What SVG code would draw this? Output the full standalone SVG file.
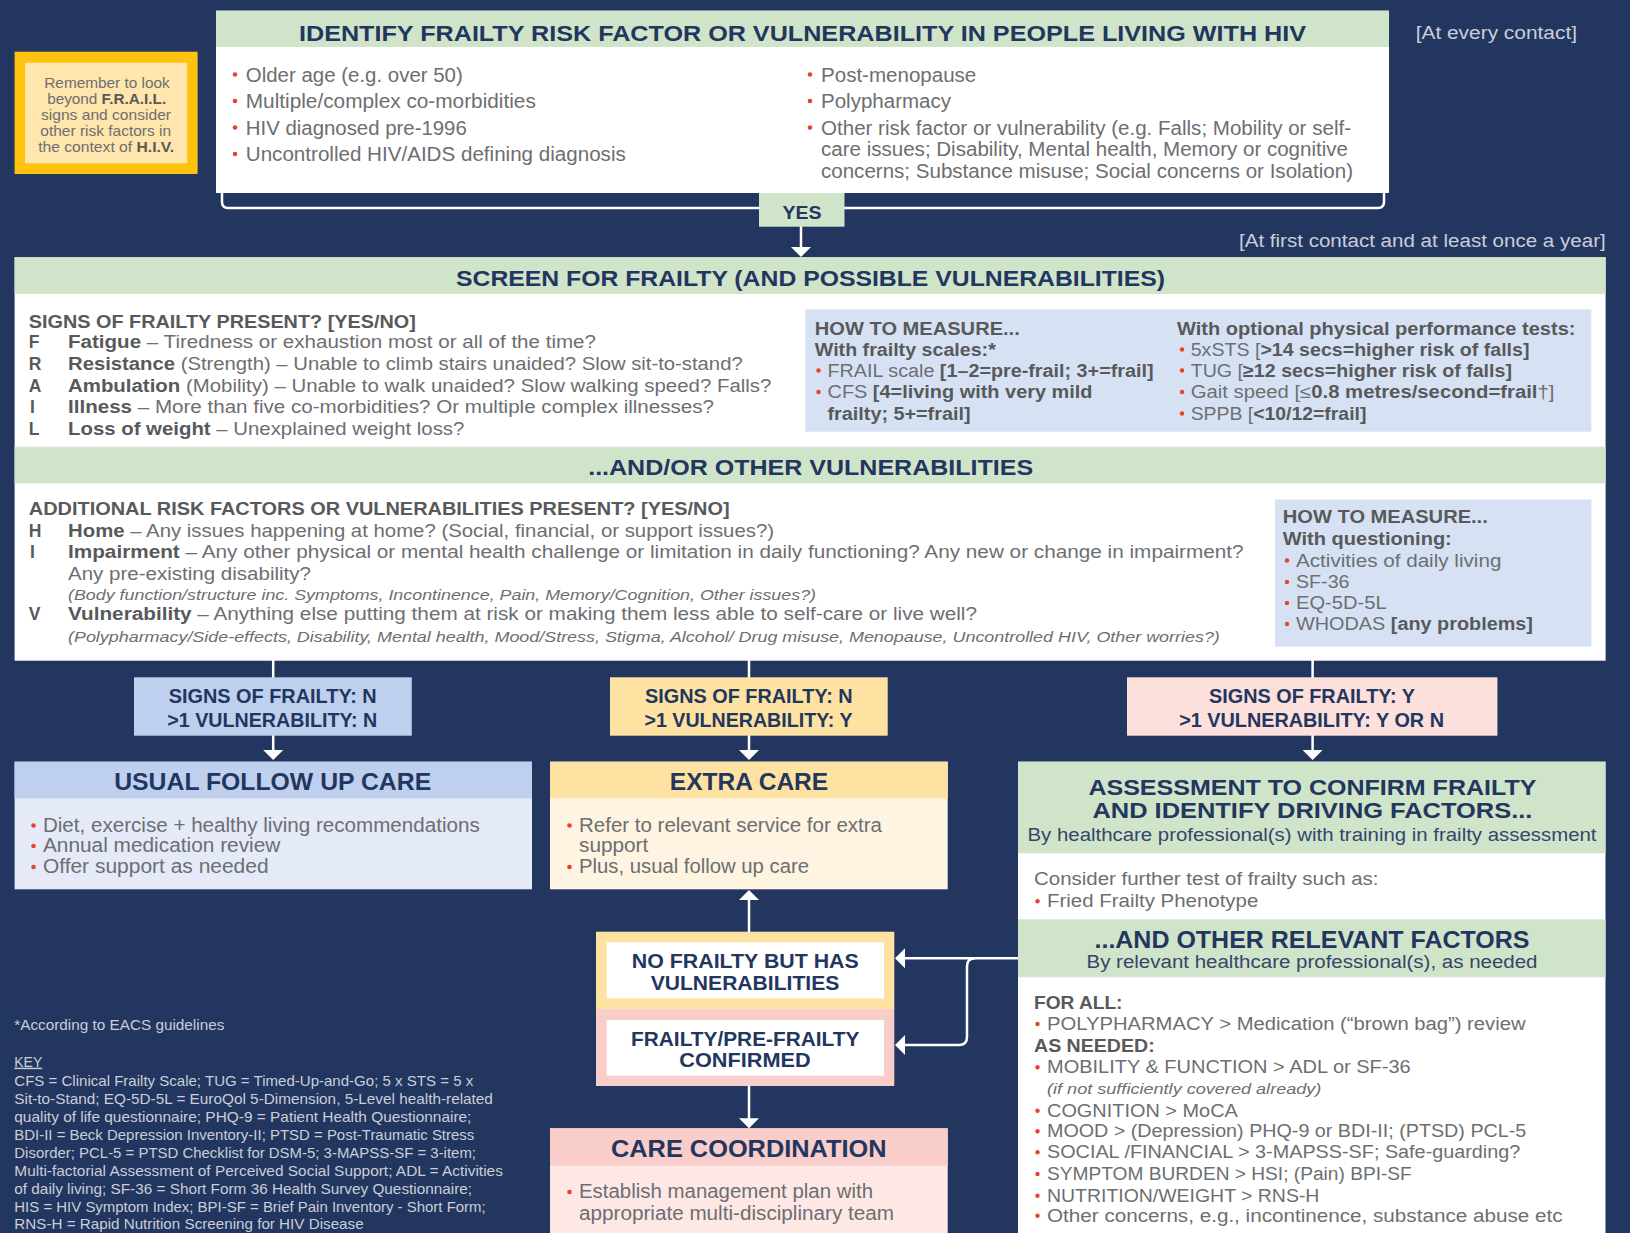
<svg xmlns="http://www.w3.org/2000/svg" width="1630" height="1233" viewBox="0 0 1630 1233">
<defs>
<style>
text{font-family:"Liberation Sans",Arial,sans-serif}
.g{fill:#6d6e71;font-size:19.5px}
.s{fill:#6d6e71;font-size:17.5px}
.m{fill:#6d6e71;font-size:18px}
.gb{font-weight:bold;fill:#58595b}
.h{font-weight:bold;fill:#22365f}
.nv{fill:#34466b;font-size:18px}
.w{fill:#c9ced9;font-size:14.5px}
.it{font-style:italic;fill:#6d6e71;font-size:15px}
.b{fill:#e8412c}
.c{stroke:#fff;stroke-width:2.5;fill:none}
.green{fill:#d0e4c9}
</style>
<marker id="ah" viewBox="0 0 10 20" refX="5" refY="10" markerWidth="10" markerHeight="20" markerUnits="userSpaceOnUse" orient="auto"><path d="M0,0 L10,10 L0,20 z" fill="#fff"/></marker>
</defs>
<rect width="1630" height="1233" fill="#233660"/>

<g id="connectors">
<path class="c" d="M222 193 V202 Q222 208 228 208 H1378 Q1384 208 1384 202 V193"/>
<line class="c" x1="801" y1="226" x2="801" y2="252" marker-end="url(#ah)"/>
<line class="c" x1="273.2" y1="660" x2="273.2" y2="678"/>
<line class="c" x1="749" y1="660" x2="749" y2="678"/>
<line class="c" x1="1312.6" y1="660" x2="1312.6" y2="678"/>
<line class="c" x1="273.2" y1="735" x2="273.2" y2="755" marker-end="url(#ah)"/>
<line class="c" x1="749" y1="735" x2="749" y2="755" marker-end="url(#ah)"/>
<line class="c" x1="1312.6" y1="735" x2="1312.6" y2="755" marker-end="url(#ah)"/>
<line class="c" x1="749" y1="932" x2="749" y2="895" marker-end="url(#ah)"/>
<line class="c" x1="749" y1="1086" x2="749" y2="1123.3" marker-end="url(#ah)"/>
<line class="c" x1="1019" y1="958.3" x2="900" y2="958.3" marker-end="url(#ah)"/>
<path class="c" d="M975 958.3 Q967 958.3 967 966.3 V1037 Q967 1045 959 1045 H900" marker-end="url(#ah)"/>
</g>

<g id="note">
<rect x="14.6" y="51.7" width="183" height="122.3" fill="#fec20f"/>
<rect x="25" y="62.7" width="162.2" height="100.6" fill="#fee6ad"/>
<g fill="#6d6e71" font-size="15" text-anchor="middle">
<text x="107" y="87.7" textLength="125.5" lengthAdjust="spacingAndGlyphs">Remember to look</text>
<text x="106.7" y="104" textLength="119" lengthAdjust="spacingAndGlyphs">beyond <tspan class="gb">F.R.A.I.L.</tspan></text>
<text x="106" y="120" textLength="130" lengthAdjust="spacingAndGlyphs">signs and consider</text>
<text x="105.7" y="136" textLength="130.7" lengthAdjust="spacingAndGlyphs">other risk factors in</text>
<text x="106.2" y="151.7" textLength="136" lengthAdjust="spacingAndGlyphs">the context of <tspan class="gb">H.I.V.</tspan></text>
</g>
</g>

<g id="identify">
<rect x="216" y="10.7" width="1173" height="182.3" fill="#fff"/>
<rect x="216" y="10.7" width="1173" height="36.3" class="green"/>
<text x="802.5" y="40.7" class="h" font-size="22" text-anchor="middle" textLength="1007" lengthAdjust="spacingAndGlyphs">IDENTIFY FRAILTY RISK FACTOR OR VULNERABILITY IN PEOPLE LIVING WITH HIV</text>
<g class="b"><circle cx="235" cy="74.5" r="2.3"/><circle cx="235" cy="101" r="2.3"/><circle cx="235" cy="127.5" r="2.3"/><circle cx="235" cy="154" r="2.3"/><circle cx="810" cy="74.5" r="2.3"/><circle cx="810" cy="101" r="2.3"/><circle cx="810" cy="127.5" r="2.3"/></g>
<text x="245.8" y="81.5" class="g" textLength="217" lengthAdjust="spacingAndGlyphs">Older age (e.g. over 50)</text>
<text x="245.8" y="108" class="g" textLength="290" lengthAdjust="spacingAndGlyphs">Multiple/complex co-morbidities</text>
<text x="245.8" y="134.5" class="g" textLength="221" lengthAdjust="spacingAndGlyphs">HIV diagnosed pre-1996</text>
<text x="245.8" y="161" class="g" textLength="380" lengthAdjust="spacingAndGlyphs">Uncontrolled HIV/AIDS defining diagnosis</text>
<text x="821" y="81.5" class="g" textLength="155.3" lengthAdjust="spacingAndGlyphs">Post-menopause</text>
<text x="821" y="108" class="g" textLength="130" lengthAdjust="spacingAndGlyphs">Polypharmacy</text>
<text x="821" y="134.5" class="g" textLength="530" lengthAdjust="spacingAndGlyphs">Other risk factor or vulnerability (e.g. Falls; Mobility or self-</text>
<text x="821" y="156" class="g" textLength="527" lengthAdjust="spacingAndGlyphs">care issues; Disability, Mental health, Memory or cognitive</text>
<text x="821" y="177.5" class="g" textLength="532" lengthAdjust="spacingAndGlyphs">concerns; Substance misuse; Social concerns or Isolation)</text>
</g>

<g id="yes">
<rect x="759" y="193" width="85.5" height="33.7" class="green"/>
<text x="802" y="218.5" class="h" font-size="19" text-anchor="middle" textLength="39" lengthAdjust="spacingAndGlyphs">YES</text>
</g>

<text x="1415.7" y="39" fill="#c9ced9" font-size="18" textLength="161.3" lengthAdjust="spacingAndGlyphs">[At every contact]</text>
<text x="1239" y="247" fill="#c9ced9" font-size="18" textLength="366.7" lengthAdjust="spacingAndGlyphs">[At first contact and at least once a year]</text>

<g id="screen">
<rect x="14.6" y="257.3" width="1591" height="403.4" fill="#fff"/>
<rect x="14.6" y="257.3" width="1591" height="36.7" class="green"/>
<rect x="14.6" y="446.7" width="1591" height="36.6" class="green"/>
<text x="810.5" y="285.7" class="h" font-size="22" text-anchor="middle" textLength="709" lengthAdjust="spacingAndGlyphs">SCREEN FOR FRAILTY (AND POSSIBLE VULNERABILITIES)</text>
<text x="810.7" y="475" class="h" font-size="22" text-anchor="middle" textLength="445" lengthAdjust="spacingAndGlyphs">...AND/OR OTHER VULNERABILITIES</text>

<text x="28.8" y="328.3" class="gb" font-size="18" textLength="387" lengthAdjust="spacingAndGlyphs">SIGNS OF FRAILTY PRESENT? [YES/NO]</text>
<g class="gb" font-size="17.5"><text x="28.8" y="348.3">F</text><text x="28.8" y="370">R</text><text x="28.8" y="391.7">A</text><text x="30" y="413.3">I</text><text x="28.8" y="435">L</text></g>
<text x="68" y="348.3" class="s" textLength="528" lengthAdjust="spacingAndGlyphs"><tspan class="gb">Fatigue</tspan> – Tiredness or exhaustion most or all of the time?</text>
<text x="68" y="370" class="s" textLength="674.7" lengthAdjust="spacingAndGlyphs"><tspan class="gb">Resistance</tspan> (Strength) – Unable to climb stairs unaided? Slow sit-to-stand?</text>
<text x="68" y="391.7" class="s" textLength="703.4" lengthAdjust="spacingAndGlyphs"><tspan class="gb">Ambulation</tspan> (Mobility) – Unable to walk unaided? Slow walking speed? Falls?</text>
<text x="68" y="413.3" class="s" textLength="646" lengthAdjust="spacingAndGlyphs"><tspan class="gb">Illness</tspan> – More than five co-morbidities? Or multiple complex illnesses?</text>
<text x="68" y="435" class="s" textLength="396.4" lengthAdjust="spacingAndGlyphs"><tspan class="gb">Loss of weight</tspan> – Unexplained weight loss?</text>

<rect x="805.3" y="309.3" width="786" height="122.4" fill="#d6e2f4"/>
<text x="814.8" y="335" class="gb" font-size="18" textLength="205" lengthAdjust="spacingAndGlyphs">HOW TO MEASURE...</text>
<text x="814.8" y="356" class="gb" font-size="18" textLength="181" lengthAdjust="spacingAndGlyphs">With frailty scales:*</text>
<g class="b"><circle cx="818.5" cy="370.5" r="2.2"/><circle cx="818.5" cy="392" r="2.2"/><circle cx="1182" cy="349.5" r="2.2"/><circle cx="1182" cy="370.5" r="2.2"/><circle cx="1182" cy="392" r="2.2"/><circle cx="1182" cy="413.5" r="2.2"/></g>
<text x="827.5" y="376.7" class="m" textLength="326" lengthAdjust="spacingAndGlyphs">FRAIL scale <tspan class="gb">[1–2=pre-frail; 3+=frail]</tspan></text>
<text x="827.5" y="398.3" class="m" textLength="265" lengthAdjust="spacingAndGlyphs">CFS <tspan class="gb">[4=living with very mild</tspan></text>
<text x="827.5" y="420" class="gb" font-size="18" textLength="143" lengthAdjust="spacingAndGlyphs">frailty; 5+=frail]</text>
<text x="1177" y="335" class="gb" font-size="18" textLength="398.5" lengthAdjust="spacingAndGlyphs">With optional physical performance tests:</text>
<text x="1190.7" y="356" class="m" textLength="338.8" lengthAdjust="spacingAndGlyphs">5xSTS [<tspan class="gb">&gt;14 secs=higher risk of falls]</tspan></text>
<text x="1190.7" y="376.7" class="m" textLength="321.3" lengthAdjust="spacingAndGlyphs">TUG [<tspan class="gb">≥12 secs=higher risk of falls]</tspan></text>
<text x="1190.7" y="398.3" class="m" textLength="363.7" lengthAdjust="spacingAndGlyphs">Gait speed [≤<tspan class="gb">0.8 metres/second=frail</tspan>†]</text>
<text x="1190.7" y="420" class="m" textLength="175.7" lengthAdjust="spacingAndGlyphs">SPPB [<tspan class="gb">&lt;10/12=frail]</tspan></text>

<text x="28.8" y="515" class="gb" font-size="18" textLength="700.8" lengthAdjust="spacingAndGlyphs">ADDITIONAL RISK FACTORS OR VULNERABILITIES PRESENT? [YES/NO]</text>
<g class="gb" font-size="17.5"><text x="28.8" y="536.7">H</text><text x="30" y="558.3">I</text><text x="28.8" y="620">V</text></g>
<text x="68" y="536.7" class="s" textLength="706" lengthAdjust="spacingAndGlyphs"><tspan class="gb">Home</tspan> – Any issues happening at home? (Social, financial, or support issues?)</text>
<text x="68" y="558.3" class="s" textLength="1175.6" lengthAdjust="spacingAndGlyphs"><tspan class="gb">Impairment</tspan> – Any other physical or mental health challenge or limitation in daily functioning? Any new or change in impairment?</text>
<text x="68" y="580" class="s" textLength="243" lengthAdjust="spacingAndGlyphs">Any pre-existing disability?</text>
<text x="68" y="600" class="it" textLength="748" lengthAdjust="spacingAndGlyphs">(Body function/structure inc. Symptoms, Incontinence, Pain, Memory/Cognition, Other issues?)</text>
<text x="68" y="620" class="s" textLength="909" lengthAdjust="spacingAndGlyphs"><tspan class="gb">Vulnerability</tspan> – Anything else putting them at risk or making them less able to self-care or live well?</text>
<text x="68" y="641.7" class="it" textLength="1151.8" lengthAdjust="spacingAndGlyphs">(Polypharmacy/Side-effects, Disability, Mental health, Mood/Stress, Stigma, Alcohol/ Drug misuse, Menopause, Uncontrolled HIV, Other worries?)</text>

<rect x="1275" y="499.5" width="316.4" height="147.2" fill="#d6e2f4"/>
<text x="1282.8" y="523.3" class="gb" font-size="18" textLength="205" lengthAdjust="spacingAndGlyphs">HOW TO MEASURE...</text>
<text x="1282.8" y="545" class="gb" font-size="18" textLength="169" lengthAdjust="spacingAndGlyphs">With questioning:</text>
<g class="b"><circle cx="1287" cy="560.5" r="2.2"/><circle cx="1287" cy="582" r="2.2"/><circle cx="1287" cy="603" r="2.2"/><circle cx="1287" cy="624" r="2.2"/></g>
<text x="1296" y="566.7" class="m" textLength="205.4" lengthAdjust="spacingAndGlyphs">Activities of daily living</text>
<text x="1296" y="588.3" class="m" textLength="53.5" lengthAdjust="spacingAndGlyphs">SF-36</text>
<text x="1296" y="609.3" class="m" textLength="90.6" lengthAdjust="spacingAndGlyphs">EQ-5D-5L</text>
<text x="1296" y="630" class="m" textLength="237" lengthAdjust="spacingAndGlyphs">WHODAS <tspan class="gb">[any problems]</tspan></text>
</g>

<g id="signs-nn">
<rect x="134" y="677.3" width="277.8" height="58.4" fill="#bfd0ef"/>
<text x="272.7" y="703.3" class="h" font-size="19.5" text-anchor="middle" textLength="208" lengthAdjust="spacingAndGlyphs">SIGNS OF FRAILTY: N</text>
<text x="272.3" y="727.3" class="h" font-size="19.5" text-anchor="middle" textLength="210" lengthAdjust="spacingAndGlyphs">&gt;1 VULNERABILITY: N</text>
</g>
<g id="signs-ny">
<rect x="610" y="677.3" width="277.7" height="58.4" fill="#fee2a1"/>
<text x="748.8" y="703.3" class="h" font-size="19.5" text-anchor="middle" textLength="207.7" lengthAdjust="spacingAndGlyphs">SIGNS OF FRAILTY: N</text>
<text x="748.5" y="727.3" class="h" font-size="19.5" text-anchor="middle" textLength="208" lengthAdjust="spacingAndGlyphs">&gt;1 VULNERABILITY: Y</text>
</g>
<g id="signs-y">
<rect x="1127" y="677.3" width="370.4" height="58.4" fill="#fde0dc"/>
<text x="1312" y="703.3" class="h" font-size="19.5" text-anchor="middle" textLength="206" lengthAdjust="spacingAndGlyphs">SIGNS OF FRAILTY: Y</text>
<text x="1311.6" y="727.3" class="h" font-size="19.5" text-anchor="middle" textLength="264.8" lengthAdjust="spacingAndGlyphs">&gt;1 VULNERABILITY: Y OR N</text>
</g>

<g id="usual">
<rect x="14.6" y="761.7" width="517.4" height="127.6" fill="#e4eaf8"/>
<rect x="14.6" y="761.7" width="517.4" height="36.6" fill="#bfd0ef"/>
<text x="272.7" y="790" class="h" font-size="24" text-anchor="middle" textLength="317" lengthAdjust="spacingAndGlyphs">USUAL FOLLOW UP CARE</text>
<g class="b"><circle cx="33.5" cy="825.5" r="2.3"/><circle cx="33.5" cy="846" r="2.3"/><circle cx="33.5" cy="867" r="2.3"/></g>
<text x="42.9" y="831.7" class="g" textLength="436.8" lengthAdjust="spacingAndGlyphs">Diet, exercise + healthy living recommendations</text>
<text x="42.9" y="852.3" class="g" textLength="237.5" lengthAdjust="spacingAndGlyphs">Annual medication review</text>
<text x="42.9" y="873.3" class="g" textLength="225.7" lengthAdjust="spacingAndGlyphs">Offer support as needed</text>
</g>

<g id="extra">
<rect x="550" y="761.7" width="397.7" height="127.6" fill="#fef4e1"/>
<rect x="550" y="761.7" width="397.7" height="36.6" fill="#fee2a1"/>
<text x="749" y="790" class="h" font-size="24" text-anchor="middle" textLength="158.3" lengthAdjust="spacingAndGlyphs">EXTRA CARE</text>
<g class="b"><circle cx="569.5" cy="825.5" r="2.3"/><circle cx="569.5" cy="867" r="2.3"/></g>
<text x="579" y="831.7" class="g" textLength="303" lengthAdjust="spacingAndGlyphs">Refer to relevant service for extra</text>
<text x="579" y="852.3" class="g" textLength="69.3" lengthAdjust="spacingAndGlyphs">support</text>
<text x="579" y="873.3" class="g" textLength="230" lengthAdjust="spacingAndGlyphs">Plus, usual follow up care</text>
</g>

<g id="outcome">
<rect x="596" y="931.7" width="298.3" height="77.3" fill="#fee2a1"/>
<rect x="596" y="1009" width="298.3" height="77" fill="#f9cdc9"/>
<rect x="606.7" y="942.3" width="277.3" height="56" fill="#fff"/>
<rect x="606.7" y="1020" width="277.3" height="55.7" fill="#fff"/>
<text x="745.3" y="967.7" class="h" font-size="20" text-anchor="middle" textLength="227" lengthAdjust="spacingAndGlyphs">NO FRAILTY BUT HAS</text>
<text x="745" y="990" class="h" font-size="20" text-anchor="middle" textLength="188.7" lengthAdjust="spacingAndGlyphs">VULNERABILITIES</text>
<text x="745.2" y="1045.7" class="h" font-size="20" text-anchor="middle" textLength="228.3" lengthAdjust="spacingAndGlyphs">FRAILTY/PRE-FRAILTY</text>
<text x="745" y="1067.3" class="h" font-size="20" text-anchor="middle" textLength="131.3" lengthAdjust="spacingAndGlyphs">CONFIRMED</text>
</g>

<g id="care">
<rect x="550" y="1128.3" width="397.7" height="104.7" fill="#fde8e6"/>
<rect x="550" y="1128.3" width="397.7" height="37.4" fill="#f9cdc9"/>
<text x="748.8" y="1157.3" class="h" font-size="24" text-anchor="middle" textLength="275.7" lengthAdjust="spacingAndGlyphs">CARE COORDINATION</text>
<circle class="b" cx="569.5" cy="1192" r="2.3"/>
<text x="579" y="1198.3" class="g" textLength="294" lengthAdjust="spacingAndGlyphs">Establish management plan with</text>
<text x="579" y="1220" class="g" textLength="315" lengthAdjust="spacingAndGlyphs">appropriate multi-disciplinary team</text>
</g>

<g id="assessment">
<rect x="1018" y="761.7" width="587.5" height="471.3" fill="#fff"/>
<rect x="1018" y="761.7" width="587.5" height="91.6" class="green"/>
<rect x="1018" y="919.3" width="587.5" height="58" class="green"/>
<text x="1312.4" y="795" class="h" font-size="22.5" text-anchor="middle" textLength="448" lengthAdjust="spacingAndGlyphs">ASSESSMENT TO CONFIRM FRAILTY</text>
<text x="1312.4" y="818.3" class="h" font-size="22.5" text-anchor="middle" textLength="440" lengthAdjust="spacingAndGlyphs">AND IDENTIFY DRIVING FACTORS...</text>
<text x="1312" y="840.7" class="nv" text-anchor="middle" textLength="569" lengthAdjust="spacingAndGlyphs">By healthcare professional(s) with training in frailty assessment</text>
<text x="1034" y="885" class="m" textLength="344.5" lengthAdjust="spacingAndGlyphs">Consider further test of frailty such as:</text>
<text x="1047" y="907.3" class="m" textLength="211.3" lengthAdjust="spacingAndGlyphs">Fried Frailty Phenotype</text>
<text x="1312" y="948.3" class="h" font-size="24" text-anchor="middle" textLength="435" lengthAdjust="spacingAndGlyphs">...AND OTHER RELEVANT FACTORS</text>
<text x="1312" y="968.3" class="nv" text-anchor="middle" textLength="451" lengthAdjust="spacingAndGlyphs">By relevant healthcare professional(s), as needed</text>
<g class="b"><circle cx="1037.5" cy="901.3" r="2.2"/><circle cx="1037.5" cy="1024" r="2.2"/><circle cx="1037.5" cy="1067.3" r="2.2"/><circle cx="1037.5" cy="1110.7" r="2.2"/><circle cx="1037.5" cy="1131.3" r="2.2"/><circle cx="1037.5" cy="1152.3" r="2.2"/><circle cx="1037.5" cy="1174" r="2.2"/><circle cx="1037.5" cy="1195.7" r="2.2"/><circle cx="1037.5" cy="1215.7" r="2.2"/></g>
<text x="1034" y="1009.3" class="gb" font-size="18.5" textLength="88.5" lengthAdjust="spacingAndGlyphs">FOR ALL:</text>
<text x="1047" y="1030" class="m" font-size="18.5" textLength="478.5" lengthAdjust="spacingAndGlyphs">POLYPHARMACY &gt; Medication (“brown bag”) review</text>
<text x="1034" y="1051.7" class="gb" font-size="18.5" textLength="120.7" lengthAdjust="spacingAndGlyphs">AS NEEDED:</text>
<text x="1047" y="1073.3" class="m" font-size="18.5" textLength="363.6" lengthAdjust="spacingAndGlyphs">MOBILITY &amp; FUNCTION &gt; ADL or SF-36</text>
<text x="1047" y="1094.3" class="it" textLength="274.4" lengthAdjust="spacingAndGlyphs">(if not sufficiently covered already)</text>
<text x="1047" y="1116.7" class="m" font-size="18.5" textLength="190.8" lengthAdjust="spacingAndGlyphs">COGNITION &gt; MoCA</text>
<text x="1047" y="1137.3" class="m" font-size="18.5" textLength="479.3" lengthAdjust="spacingAndGlyphs">MOOD &gt; (Depression) PHQ-9 or BDI-II; (PTSD) PCL-5</text>
<text x="1047" y="1158.3" class="m" font-size="18.5" textLength="473.3" lengthAdjust="spacingAndGlyphs">SOCIAL /FINANCIAL &gt; 3-MAPSS-SF; Safe-guarding?</text>
<text x="1047" y="1180" class="m" font-size="18.5" textLength="364.8" lengthAdjust="spacingAndGlyphs">SYMPTOM BURDEN &gt; HSI; (Pain) BPI-SF</text>
<text x="1047" y="1201.7" class="m" font-size="18.5" textLength="272.4" lengthAdjust="spacingAndGlyphs">NUTRITION/WEIGHT &gt; RNS-H</text>
<text x="1047" y="1221.7" class="m" font-size="18.5" textLength="515.5" lengthAdjust="spacingAndGlyphs">Other concerns, e.g., incontinence, substance abuse etc</text>
</g>

<g id="footnotes">
<text x="14.3" y="1030" class="w" textLength="210" lengthAdjust="spacingAndGlyphs">*According to EACS guidelines</text>
<text x="14.3" y="1066.7" class="w" textLength="27.9" lengthAdjust="spacingAndGlyphs" text-decoration="underline">KEY</text>
<text x="14.3" y="1085.5" class="w" textLength="458.9" lengthAdjust="spacingAndGlyphs">CFS = Clinical Frailty Scale; TUG = Timed-Up-and-Go; 5 x STS = 5 x</text>
<text x="14.3" y="1103.5" class="w" textLength="478.6" lengthAdjust="spacingAndGlyphs">Sit-to-Stand; EQ-5D-5L = EuroQol 5-Dimension, 5-Level health-related</text>
<text x="14.3" y="1121.5" class="w" textLength="457.1" lengthAdjust="spacingAndGlyphs">quality of life questionnaire; PHQ-9 = Patient Health Questionnaire;</text>
<text x="14.3" y="1139.5" class="w" textLength="460" lengthAdjust="spacingAndGlyphs">BDI-II = Beck Depression Inventory-II; PTSD = Post-Traumatic Stress</text>
<text x="14.3" y="1157.5" class="w" textLength="461.7" lengthAdjust="spacingAndGlyphs">Disorder; PCL-5 = PTSD Checklist for DSM-5; 3-MAPSS-SF = 3-item;</text>
<text x="14.3" y="1175.5" class="w" textLength="488.6" lengthAdjust="spacingAndGlyphs">Multi-factorial Assessment of Perceived Social Support; ADL = Activities</text>
<text x="14.3" y="1193.5" class="w" textLength="457.8" lengthAdjust="spacingAndGlyphs">of daily living; SF-36 = Short Form 36 Health Survey Questionnaire;</text>
<text x="14.3" y="1211.5" class="w" textLength="471.4" lengthAdjust="spacingAndGlyphs">HIS = HIV Symptom Index; BPI-SF = Brief Pain Inventory - Short Form;</text>
<text x="14.3" y="1229.3" class="w" textLength="349.3" lengthAdjust="spacingAndGlyphs">RNS-H = Rapid Nutrition Screening for HIV Disease</text>
</g>
</svg>
